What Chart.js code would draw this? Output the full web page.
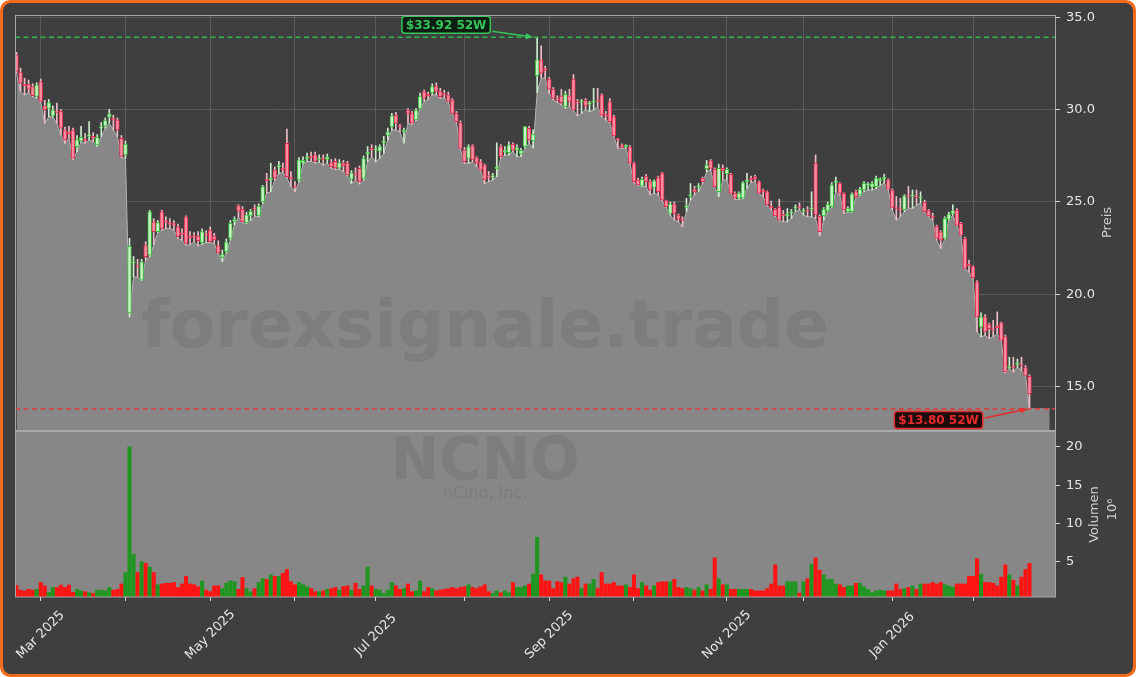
<!DOCTYPE html>
<html>
<head>
<meta charset="utf-8">
<script src="https://cdn.jsdelivr.net/npm/chart.js@4.4.1/dist/chart.umd.min.js"></script>
<style>
  html, body { margin: 0; padding: 0; background: #ffffff; }
  canvas { display: block; }
</style>
</head>
<body>
<canvas id="chart" width="1136" height="677"></canvas>
<script>
// NCNO - 52 Wochen, Handelstage als Index
const opens = [
  32.97,32.03,31.35,31.38,31.25,30.71,31.52,30.20,30.07,29.66,
  29.90,29.90,28.90,28.75,28.90,28.00,28.30,28.40,28.55,28.55,
  28.09,29.00,29.12,29.59,29.53,29.44,28.45,27.55,19.00,21.70,
  21.55,20.77,22.67,22.13,23.93,23.39,24.48,23.95,23.85,23.80,
  23.66,23.30,24.20,23.15,23.15,23.15,22.80,23.25,23.48,23.15,
  22.63,22.00,22.31,23.03,23.95,24.80,24.60,23.88,24.25,24.65,
  24.24,25.00,26.20,26.20,26.73,26.90,26.80,28.18,26.30,25.85,
  26.19,27.10,27.35,27.45,27.55,27.30,27.35,27.30,27.13,27.20,
  26.83,27.10,27.10,26.23,26.50,26.82,26.28,27.60,27.90,27.80,
  27.75,28.20,28.60,29.08,29.71,29.10,28.80,29.98,29.80,29.44,
  30.07,30.98,30.80,30.92,31.28,31.00,30.85,30.80,30.53,29.80,
  29.30,27.82,27.36,28.05,27.40,27.18,27.00,26.40,26.35,26.80,
  28.00,27.70,27.67,28.14,27.80,27.60,27.99,28.99,28.32,31.83,
  32.70,32.20,31.65,31.10,30.55,30.74,30.16,30.74,31.65,30.40,
  30.40,30.50,30.30,30.40,30.50,30.80,29.70,30.44,29.62,28.40,
  28.10,28.00,27.99,27.10,26.20,25.86,26.37,26.10,25.79,26.32,
  26.55,25.07,24.38,24.89,24.29,24.05,24.70,25.30,25.70,25.80,
  26.30,26.80,27.24,26.77,25.56,26.82,26.52,26.50,25.47,25.20,
  25.20,26.10,26.25,26.37,26.10,25.60,25.56,24.78,24.60,24.71,
  24.30,24.25,24.40,24.65,24.75,24.50,24.55,24.60,27.10,24.24,
  24.24,24.51,24.75,26.05,26.01,25.47,24.47,24.47,25.56,25.38,
  25.65,25.90,25.80,25.83,26.15,26.25,26.20,25.65,24.70,24.60,
  24.57,25.35,25.30,25.30,25.20,25.00,24.53,24.20,23.70,23.39,
  23.03,24.06,24.35,24.56,23.84,23.03,21.60,21.50,20.68,18.24,
  18.78,18.39,18.10,18.25,18.46,17.70,16.00,16.10,16.20,16.20,
  16.04,15.57
];
const highs = [
  33.10,32.24,31.70,31.60,31.40,31.45,31.65,30.50,30.55,30.20,
  30.35,30.00,29.05,29.10,29.00,28.60,29.10,28.70,29.35,28.75,
  28.65,29.30,29.55,30.02,29.70,29.55,28.60,28.30,23.03,22.05,
  21.90,21.90,22.85,24.55,24.10,24.00,24.55,24.20,24.10,24.00,
  23.80,23.55,24.25,23.40,23.35,23.40,23.55,23.45,23.65,23.30,
  22.90,22.40,23.00,24.00,24.20,24.85,24.75,24.45,24.60,24.85,
  24.90,25.90,26.55,27.10,26.90,27.20,27.10,28.95,26.65,26.10,
  27.40,27.45,27.65,27.70,27.70,27.55,27.55,27.60,27.30,27.35,
  27.30,27.25,27.20,26.70,26.85,26.95,27.50,28.00,28.10,28.05,
  28.10,28.55,29.00,29.80,29.85,29.20,29.00,30.05,29.90,30.05,
  30.90,31.05,30.95,31.40,31.45,31.15,31.05,30.95,30.60,29.90,
  29.40,27.95,28.10,28.10,27.45,27.30,27.05,26.65,26.55,28.20,
  28.10,28.00,28.25,28.20,28.10,27.90,29.10,29.10,28.90,33.92,
  33.45,32.35,31.75,31.20,30.75,31.10,31.00,31.10,31.90,30.55,
  30.55,30.60,30.45,31.15,31.15,30.85,29.90,30.60,29.70,28.45,
  28.15,28.10,28.05,27.15,26.30,26.35,26.50,26.20,26.20,26.40,
  26.60,25.10,25.00,25.00,24.35,24.20,25.20,26.00,25.85,26.00,
  26.35,27.25,27.30,26.85,27.05,27.00,26.85,26.55,25.55,25.55,
  26.10,26.55,26.40,26.45,26.15,25.70,25.60,25.05,24.65,25.15,
  24.55,24.65,24.60,24.85,24.95,24.65,24.75,25.55,27.55,24.30,
  24.70,25.00,26.05,26.35,26.05,25.50,24.75,25.50,25.65,25.80,
  26.10,26.05,26.10,26.40,26.30,26.50,26.25,25.70,25.30,25.20,
  25.40,25.85,25.65,25.65,25.55,25.10,24.60,24.40,23.75,23.45,
  24.20,24.45,24.85,24.65,23.90,23.10,21.85,21.55,20.75,19.00,
  18.90,18.45,18.60,19.05,18.50,17.80,16.60,16.60,16.50,16.60,
  16.15,15.65
];
const lows = [
  31.97,30.98,30.80,30.90,30.70,30.62,30.40,29.26,29.62,29.60,
  29.26,28.63,28.18,28.45,27.31,27.73,28.25,28.18,28.36,28.27,
  28.00,28.54,28.99,29.26,28.90,28.54,27.40,27.37,18.78,20.95,
  20.92,20.74,21.86,22.04,22.67,23.35,23.48,23.57,23.57,23.48,
  23.03,22.94,22.67,22.67,22.85,22.62,22.72,22.80,22.80,22.75,
  22.22,21.77,22.22,22.94,23.75,24.20,23.88,23.84,24.00,24.20,
  24.20,24.93,25.47,25.56,26.19,26.55,26.60,26.30,25.83,25.56,
  26.10,27.05,27.19,27.19,27.10,27.15,27.00,27.10,26.82,26.77,
  26.77,26.64,26.41,26.00,26.19,25.97,26.19,27.18,27.45,27.18,
  27.36,27.63,28.36,28.90,28.90,28.80,28.18,29.26,29.20,29.40,
  30.05,30.44,30.53,30.80,30.80,30.62,30.62,30.40,29.78,29.30,
  27.85,27.09,27.09,27.18,26.91,26.70,26.00,26.10,26.19,26.37,
  27.40,27.54,27.54,27.73,27.45,27.45,27.91,28.18,27.91,30.92,
  31.70,31.70,30.89,30.53,30.38,30.26,30.07,30.16,29.95,29.66,
  29.80,29.98,29.89,29.98,30.16,29.62,29.44,29.30,28.54,27.91,
  27.92,27.91,27.05,26.05,25.90,25.83,25.83,25.38,25.47,25.38,
  25.05,24.70,24.29,24.02,23.93,23.66,24.47,25.10,25.38,25.56,
  26.01,26.64,26.73,25.80,25.29,26.19,26.19,25.45,25.14,25.14,
  25.18,25.74,26.05,26.10,25.45,25.29,24.82,24.57,24.22,24.00,
  23.93,23.93,24.11,24.48,24.57,24.29,24.20,24.20,24.11,23.16,
  24.02,24.50,24.70,25.56,25.38,24.38,24.45,24.45,25.27,25.36,
  25.56,25.65,25.65,25.74,25.92,26.01,25.65,24.57,24.02,24.20,
  24.48,24.66,24.66,24.84,24.93,24.45,24.20,24.02,22.94,22.49,
  23.00,24.02,24.29,23.72,23.19,21.38,21.22,20.86,17.97,17.70,
  17.79,17.61,17.70,17.88,17.50,15.75,15.98,15.80,16.07,15.89,
  15.60,13.80
];
const closes = [
  32.06,31.43,31.29,31.10,30.75,31.34,30.44,30.00,30.38,29.98,
  29.85,29.00,28.36,28.70,27.37,28.36,28.50,28.30,28.60,28.45,
  28.50,29.05,29.41,29.77,29.44,28.90,27.46,28.14,22.60,21.75,
  21.48,21.76,22.04,24.48,23.39,23.88,23.57,23.90,23.80,23.75,
  23.12,23.25,22.76,23.05,23.10,22.90,23.40,23.20,22.85,22.95,
  22.25,22.18,22.85,23.84,24.06,24.50,23.93,24.30,24.50,24.60,
  24.78,25.83,26.15,26.25,26.28,26.95,26.75,26.37,26.25,25.80,
  27.28,27.25,27.40,27.40,27.20,27.35,27.30,27.45,26.90,26.83,
  27.13,26.95,26.46,26.58,26.45,26.10,27.36,27.65,27.80,27.85,
  28.00,28.30,28.80,29.66,29.26,29.05,28.88,29.80,29.26,29.98,
  30.71,30.62,30.75,31.25,30.98,30.70,30.80,30.44,29.80,29.35,
  27.90,27.18,28.00,27.30,27.10,26.73,26.19,26.35,26.40,26.90,
  27.45,27.80,28.09,27.80,27.95,27.80,29.08,28.36,28.68,32.70,
  31.97,32.10,31.10,30.60,30.50,30.38,30.83,30.44,29.98,30.35,
  30.45,30.20,30.35,30.45,30.45,29.70,29.65,29.35,28.57,28.35,
  27.95,28.05,27.10,26.10,25.92,26.23,26.10,25.65,26.15,25.56,
  25.10,24.74,24.89,24.38,24.06,24.00,24.80,25.40,25.55,25.85,
  26.10,27.00,26.82,25.83,26.82,26.70,26.77,25.47,25.20,25.47,
  26.05,26.15,26.20,26.23,25.47,25.55,24.84,24.66,24.24,24.02,
  24.25,24.30,24.45,24.70,24.70,24.55,24.50,24.65,24.30,23.39,
  24.60,24.87,25.92,26.10,25.47,24.57,24.66,25.43,25.29,25.70,
  26.01,25.95,26.00,26.28,26.20,26.30,25.70,24.70,24.65,24.55,
  25.33,25.30,25.35,25.25,25.25,24.47,24.24,24.15,23.03,22.94,
  24.11,24.35,24.53,23.75,23.21,21.40,21.55,20.90,18.78,18.78,
  17.97,18.15,18.05,18.20,17.52,15.80,16.05,16.05,16.25,16.15,
  15.62,14.63
];
// Volumen in Mio.
const volumes = [
  1.9,1.3,1.2,1.4,1.3,1.4,2.3,1.85,1.0,1.65,
  1.65,1.96,1.65,1.96,1.0,1.4,1.2,1.1,0.95,0.87,
  1.3,1.3,1.2,1.65,1.3,1.4,2.1,3.6,20.0,6.0,
  3.6,5.0,4.8,4.3,3.6,2.0,2.1,2.2,2.2,2.3,
  1.65,2.1,3.1,2.1,2.0,1.74,2.5,1.3,1.1,1.85,
  1.85,1.5,2.2,2.5,2.4,1.4,2.95,1.5,1.1,1.5,
  2.3,2.8,2.7,3.3,3.1,3.1,3.5,4.0,2.4,2.0,
  2.3,2.0,1.74,1.5,1.1,1.1,1.2,1.4,1.5,1.65,
  1.3,1.74,1.85,1.3,2.2,1.4,1.85,4.3,1.85,1.4,
  1.3,0.87,1.3,2.3,1.85,1.4,1.5,2.1,1.1,1.2,
  2.5,1.1,1.65,1.5,1.2,1.3,1.4,1.5,1.65,1.5,
  1.65,1.74,2.0,1.65,1.5,1.74,2.0,1.1,0.87,1.2,
  0.95,1.2,0.95,2.3,1.65,1.65,1.85,2.1,3.4,8.2,
  3.3,2.5,2.5,1.5,2.4,2.3,3.0,2.1,2.8,3.0,
  1.5,2.1,2.1,2.7,1.5,3.6,2.1,2.1,2.3,1.85,
  1.85,2.0,1.65,3.3,1.5,2.3,1.85,1.3,1.85,2.3,
  2.4,2.4,2.4,2.7,1.65,1.5,1.65,1.5,1.3,1.65,
  1.2,2.0,1.4,5.5,2.8,2.0,2.0,1.4,1.4,1.4,
  1.4,1.4,1.4,1.2,1.2,1.2,1.5,2.1,4.6,1.85,
  1.85,2.4,2.4,2.4,0.9,2.4,2.8,4.7,5.5,3.9,
  3.3,2.7,2.7,2.1,2.0,1.65,1.85,1.85,2.2,2.2,
  1.74,1.4,0.95,1.2,1.3,1.2,1.2,1.2,2.1,1.4,
  1.5,1.65,1.85,1.4,2.1,2.1,2.1,2.3,2.1,2.3,
  2.0,1.85,1.65,2.1,2.1,2.1,3.1,3.1,5.4,3.4,
  2.3,2.3,2.2,1.85,3.0,4.6,3.3,2.6,1.85,3.0,
  4.0,4.8
];
// Monatsanfaenge (Index des ersten Handelstags)
const monthIdx = [6, 27, 48, 69, 89, 111, 132, 153, 176, 195, 217, 237];
const monthLabels = ['Mar 2025', '', 'May 2025', '', 'Jul 2025', '', 'Sep 2025', '', 'Nov 2025', '', 'Jan 2026', ''];
const priceTicks = [15, 20, 25, 30, 35];
const volTicks = [5, 10, 15, 20];
const high52 = 33.92, high52Idx = 129;
const low52 = 13.80, low52Idx = 251;
const areaEndIdx = 256;

const BG = '#3f3f3f', AREA = '#878787';
const isUp = i => closes[i] >= opens[i];

const wickData = lows.map((l, i) => ({ x: i, y: [l, highs[i]] }));
const bodyData = opens.map((o, i) => ({ x: i, y: [o, closes[i]] }));
const volData = volumes.map((v, i) => ({ x: i, y: v }));
const areaData = lows.map((l, i) => ({ x: i, y: l }));
areaData.push({ x: areaEndIdx, y: lows[lows.length - 1] });

function rrect(ctx, x, y, w, h, r) {
    ctx.beginPath();
    ctx.moveTo(x + r, y);
    ctx.arcTo(x + w, y, x + w, y + h, r);
    ctx.arcTo(x + w, y + h, x, y + h, r);
    ctx.arcTo(x, y + h, x, y, r);
    ctx.arcTo(x, y, x + w, y, r);
    ctx.closePath();
}

function arrow(ctx, x1, y1, x2, y2, color) {
    const a = Math.atan2(y2 - y1, x2 - x1), s = 8;
    ctx.strokeStyle = color; ctx.fillStyle = color; ctx.lineWidth = 1.6;
    ctx.beginPath(); ctx.moveTo(x1, y1); ctx.lineTo(x2 - s * 0.8 * Math.cos(a), y2 - s * 0.8 * Math.sin(a)); ctx.stroke();
    ctx.beginPath();
    ctx.moveTo(x2, y2);
    ctx.lineTo(x2 - s * Math.cos(a - 0.4), y2 - s * Math.sin(a - 0.4));
    ctx.lineTo(x2 - s * Math.cos(a + 0.4), y2 - s * Math.sin(a + 0.4));
    ctx.closePath(); ctx.fill();
}

function labelBox(ctx, cx, cy, text, fg, fill) {
    ctx.font = 'bold 12px "DejaVu Sans"';
    const w = ctx.measureText(text).width + 8, h = 17;
    rrect(ctx, cx - w / 2, cy - h / 2, w, h, 3);
    ctx.fillStyle = fill; ctx.fill();
    ctx.strokeStyle = fg; ctx.lineWidth = 1.5; ctx.stroke();
    ctx.fillStyle = fg; ctx.textAlign = 'center'; ctx.textBaseline = 'middle';
    ctx.fillText(text, cx, cy + 1);
    return w;
}

const decorPlugin = {
    id: 'decor',
    beforeDraw(chart) {
        const ctx = chart.ctx, w = chart.width, h = chart.height;
        ctx.save();
        ctx.fillStyle = '#f26a1b';
        rrect(ctx, 0, 0, w, h, 10); ctx.fill();
        ctx.fillStyle = BG;
        rrect(ctx, 3, 3, w - 6, h - 6, 8); ctx.fill();
        ctx.restore();
    },
    beforeDatasetsDraw(chart) {
        const ctx = chart.ctx, a = chart.chartArea, yv = chart.scales.yv;
        ctx.save();
        ctx.fillStyle = AREA;
        ctx.fillRect(a.left, yv.top, a.right - a.left, yv.bottom - yv.top);
        ctx.restore();
    },
    afterDatasetsDraw(chart) {
        const ctx = chart.ctx, a = chart.chartArea, x = chart.scales.x, y = chart.scales.y, yv = chart.scales.yv;
        ctx.save();
        // Wasserzeichen
        ctx.fillStyle = 'rgba(40,40,40,0.10)';
        ctx.textAlign = 'center'; ctx.textBaseline = 'middle';
        ctx.font = 'bold 66px "DejaVu Sans"';
        ctx.fillText('forexsignale.trade', 485, 330);
        ctx.font = 'bold 58px "DejaVu Sans"';
        ctx.fillText('NCNO', 485, 464);
        ctx.font = '16px "DejaVu Sans"';
        ctx.fillStyle = 'rgba(40,40,40,0.12)';
        ctx.fillText('nCino, Inc.', 485, 494);

        // 52W Linien
        const yH = y.getPixelForValue(high52), yL = y.getPixelForValue(low52);
        ctx.lineWidth = 1.5; ctx.setLineDash([5, 3.5]);
        ctx.strokeStyle = '#2fb84f';
        ctx.beginPath(); ctx.moveTo(a.left, yH); ctx.lineTo(a.right, yH); ctx.stroke();
        ctx.strokeStyle = '#e03a3a';
        ctx.beginPath(); ctx.moveTo(a.left, yL); ctx.lineTo(a.right, yL); ctx.stroke();
        ctx.setLineDash([]);

        // Annotationen
        const hx = x.getPixelForValue(high52Idx) - 4;
        const gw = labelBox(ctx, hx - 87, yH - 12.5, '$' + high52.toFixed(2) + ' 52W', '#35c45a', '#0c1f12');
        arrow(ctx, hx - 87 + gw / 2 + 2, yH - 6, hx, yH, '#35c45a');
        const lx = x.getPixelForValue(low52Idx) - 2;
        const rw = labelBox(ctx, lx - 89, yL + 11, '$' + low52.toFixed(2) + ' 52W', '#e82a2a', '#1e0c0c');
        arrow(ctx, lx - 89 + rw / 2 + 2, yL + 9, lx, yL, '#e82a2a');

        // Rahmen
        ctx.strokeStyle = '#a8a8a8'; ctx.lineWidth = 1;
        ctx.strokeRect(a.left + 0.5, y.top + 0.5, a.right - a.left - 1, y.bottom - y.top);
        ctx.strokeRect(a.left + 0.5, yv.top + 1.5, a.right - a.left - 1, yv.bottom - yv.top - 1.5);

        // Achsentitel
        ctx.fillStyle = '#cfcfcf'; ctx.font = '13px "DejaVu Sans"';
        ctx.textAlign = 'center'; ctx.textBaseline = 'middle';
        const drawRot = (t, px, py) => { ctx.save(); ctx.translate(px, py); ctx.rotate(-Math.PI / 2); ctx.fillText(t, 0, 0); ctx.restore(); };
        drawRot('Preis', 1108, (y.top + y.bottom) / 2);
        drawRot('Volumen', 1095, (yv.top + yv.bottom) / 2 + 1);
        drawRot('10\u2076', 1113, (yv.top + yv.bottom) / 2 - 4);

        // X-Beschriftung, 45 Grad gedreht, zentriert unter dem Tick
        ctx.fillStyle = '#e6e6e6'; ctx.font = '13px "DejaVu Sans"';
        monthIdx.forEach((m, k) => {
            if (!monthLabels[k]) return;
            ctx.save();
            ctx.translate(x.getPixelForValue(m), a.bottom + 38);
            ctx.rotate(-Math.PI / 4);
            ctx.fillText(monthLabels[k], 0, 0);
            ctx.restore();
        });
        ctx.restore();
    }
};

Chart.defaults.font.family = '"DejaVu Sans"';
Chart.defaults.font.size = 13;
Chart.defaults.color = '#e6e6e6';

new Chart(document.getElementById('chart'), {
    type: 'bar',
    data: {
        datasets: [
            {
                type: 'line', data: areaData, yAxisID: 'y', order: 3,
                fill: 'start', backgroundColor: AREA, borderColor: '#b4b4b4', borderWidth: 1,
                pointRadius: 0, tension: 0
            },
            {
                data: wickData, yAxisID: 'y', order: 2, grouped: false, barThickness: 1,
                backgroundColor: c => isUp(c.dataIndex) ? '#cdeccd' : '#f0bcc6'
            },
            {
                data: bodyData, yAxisID: 'y', order: 1, grouped: false, barThickness: 3.8, minBarLength: 1.5,
                borderWidth: 1, borderSkipped: false,
                backgroundColor: c => isUp(c.dataIndex) ? '#c8f2c8' : '#f78ea2',
                borderColor: c => isUp(c.dataIndex) ? '#33c033' : '#e0284c'
            },
            {
                data: volData, yAxisID: 'yv', order: 1, grouped: false, barThickness: 3.4,
                backgroundColor: c => isUp(c.dataIndex) ? '#1f961f' : '#ff1414'
            }
        ]
    },
    options: {
        responsive: false,
        animation: false,
        devicePixelRatio: 1,
        layout: { padding: { left: 15, top: 15, right: 0, bottom: 0 } },
        plugins: { legend: { display: false }, tooltip: { enabled: false } },
        scales: {
            x: {
                type: 'linear', min: -0.37, max: 257.56, offset: false,
                afterBuildTicks: s => { s.ticks = monthIdx.map(v => ({ value: v })); },
                afterFit: s => { s.height = 80; },
                ticks: { autoSkip: false, maxRotation: 0, callback: () => '' },
                grid: { offset: false, color: 'rgba(255,255,255,0.14)', tickColor: '#d8d8d8', tickLength: 4 },
                border: { display: false }
            },
            y: {
                type: 'linear', position: 'right', stack: 'main', stackWeight: 415,
                min: 12.66, max: 35.12,
                afterBuildTicks: s => { s.ticks = priceTicks.map(v => ({ value: v })); },
                afterFit: s => { s.width = 80; },
                ticks: { padding: 6, color: '#e6e6e6', callback: v => v.toFixed(1) },
                grid: { color: 'rgba(255,255,255,0.14)', tickColor: '#d8d8d8', tickLength: 4 },
                border: { display: false }
            },
            yv: {
                type: 'linear', position: 'right', stack: 'main', stackWeight: 167,
                min: 0.4, max: 22.2,
                afterBuildTicks: s => { s.ticks = volTicks.map(v => ({ value: v })); },
                afterFit: s => { s.width = 80; },
                ticks: { padding: 6, color: '#e6e6e6' },
                grid: { drawOnChartArea: false, tickColor: '#d8d8d8', tickLength: 4 },
                border: { display: false }
            }
        }
    },
    plugins: [decorPlugin]
});
</script>
</body>
</html>
